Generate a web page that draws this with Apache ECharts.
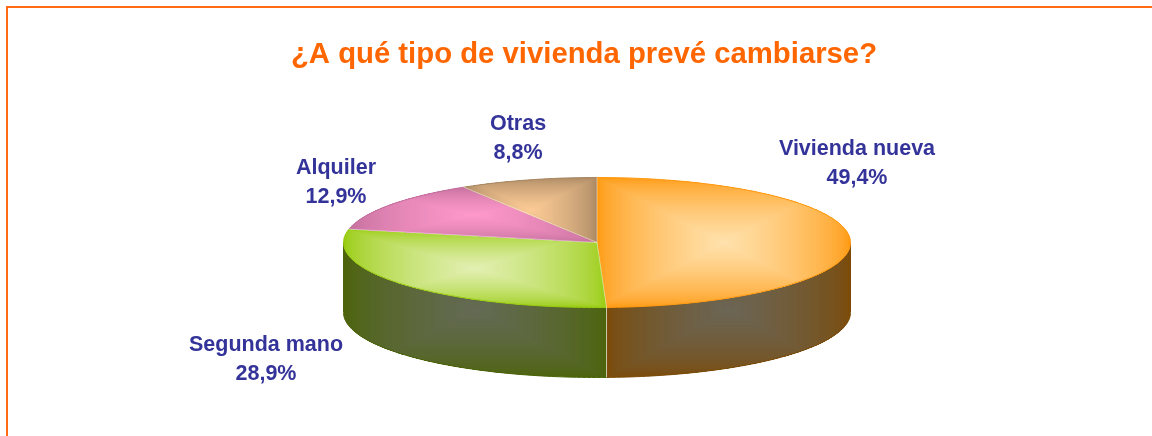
<!DOCTYPE html>
<html><head><meta charset="utf-8">
<style>html,body{margin:0;padding:0;background:#fff}#c{width:1152px;height:436px}</style>
<script src="https://cdn.jsdelivr.net/npm/echarts@6/dist/echarts.min.js"></script>
</head><body><div id="c"></div>
<script>
const categories = ['Vivienda nueva', 'Segunda mano', 'Alquiler', 'Otras'];
const values = [49.4, 28.9, 12.9, 8.8];
const valueLabels = ['49,4%', '28,9%', '12,9%', '8,8%'];
const titleText = '¿A qué tipo de vivienda prevé cambiarse?';

// layout and styling
const PIE = { cx: 597, cy: 242.5, rx: 253.5, ry: 65, depth: 70 };
const topEdge = ['#ff9a12', '#99cc11', '#c26f9c', '#a98863'];
const topCenter = ['#ffe2ae', '#e3f0b4', '#ff99cc', '#fccb96'];
const wallEdge = ['#7c4b08', '#4c640a'];
const wallCenter = ['#6b6656', '#646a55'];
const labelCenters = [[857, 164], [266, 360], [336, 183], [518, 139]];

const total = values.reduce((a, b) => a + b, 0);
const ang = v => v / total * Math.PI * 2;
const px = a => PIE.cx + PIE.rx * Math.sin(a);
const py = (a, d) => PIE.cy - PIE.ry * Math.cos(a) + (d || 0);
function hex(c) { return [1, 3, 5].map(i => parseInt(c.substr(i, 2), 16)); }
function mix(a, b, t) {
  const A = hex(a), B = hex(b);
  return 'rgb(' + A.map((v, i) => Math.round(v + (B[i] - v) * t)).join(',') + ')';
}
function arcPts(a0, a1, d) {
  const n = Math.max(2, Math.ceil((a1 - a0) / 0.02)), p = [];
  for (let i = 0; i <= n; i++) { const a = a0 + (a1 - a0) * i / n; p.push([px(a), py(a, d)]); }
  return p;
}
function bands(x0, y0, x1, y1, edge, center, pow) {
  const out = [], N = 48, mx = (x0 + x1) / 2, my = (y0 + y1) / 2;
  for (let i = 0; i < N; i++) {
    const t = i / N, hw = (x1 - x0) / 2 * (1 - t), hh = (y1 - y0) / 2 * (1 - t);
    out.push({ type: 'rect', shape: { x: mx - hw, y: my - hh, width: hw * 2, height: hh * 2 },
      style: { fill: mix(edge, center, Math.pow(t, pow)) } });
  }
  return out;
}
function bbox(pts) {
  const xs = pts.map(p => p[0]), ys = pts.map(p => p[1]);
  return [Math.min(...xs), Math.min(...ys), Math.max(...xs), Math.max(...ys)];
}
function renderItem(params, api) {
  const i = params.dataIndex;
  const a0 = ang(values.slice(0, i).reduce((a, b) => a + b, 0));
  const a1 = a0 + ang(api.value(0));
  const children = [];
  // side wall: only the part of the rim that faces the viewer
  const w0 = Math.max(a0, Math.PI / 2), w1 = Math.min(a1, Math.PI * 1.5);
  if (w1 > w0) {
    const low = arcPts(w0, w1, PIE.depth);
    const wall = arcPts(w0, w1, 0).concat(low.slice().reverse());
    const b = bbox(wall);
    children.push({
      type: 'group',
      clipPath: { type: 'polygon', shape: { points: wall } },
      children: bands(b[0], PIE.cy, b[2], b[3], wallEdge[i], wallCenter[i], 0.65)
    });
    children.push({ type: 'polyline', shape: { points: low },
      style: { fill: null, stroke: wallEdge[i], lineWidth: 1 } });
    const outer = i === 0 ? w0 : w1;
    children.push({ type: 'line',
      shape: { x1: px(outer), y1: py(outer), x2: px(outer), y2: py(outer, PIE.depth) },
      style: { stroke: wallEdge[i], lineWidth: 1 } });
    if (a0 >= Math.PI / 2) children.push({ type: 'line', z2: 2,
      shape: { x1: px(a0), y1: py(a0), x2: px(a0), y2: py(a0, PIE.depth) },
      style: { stroke: 'rgba(255,255,255,0.25)', lineWidth: 1 } });
  }
  // top face
  const rim = arcPts(a0, a1, 0);
  const top = [[PIE.cx, PIE.cy]].concat(rim);
  const b = bbox(top);
  children.push({
    type: 'group',
    clipPath: { type: 'polygon', shape: { points: top } },
    children: bands(b[0], b[1], b[2], b[3], topEdge[i], topCenter[i], 0.65)
  });
  children.push({ type: 'polyline', shape: { points: rim },
    style: { fill: null, stroke: topEdge[i], lineWidth: 1 } });
  children.push({ type: 'polyline', z2: 2,
    shape: { points: [[px(a0), py(a0)], [PIE.cx, PIE.cy], [px(a1), py(a1)]] },
    style: { fill: null, stroke: 'rgba(255,255,255,0.3)', lineWidth: 0.8 } });
  children.push({ type: 'text', z2: 10, style: {
    text: categories[i] + '\n' + valueLabels[i],
    x: labelCenters[i][0], y: labelCenters[i][1],
    align: 'center', verticalAlign: 'middle',
    font: 'bold 21.5px "Liberation Sans", Arial, sans-serif', lineHeight: 29, fill: '#333399' } });
  return { type: 'group', children };
}
const chart = echarts.init(document.getElementById('c'), null, { renderer: 'canvas' });
chart.setOption({
  animation: false,
  backgroundColor: '#fff',
  title: { text: titleText, left: 584, textAlign: 'center', top: 40, padding: 0,
    textStyle: { color: '#ff6600', fontSize: 29.3, fontWeight: 'bold', fontFamily: '"Liberation Sans", Arial, sans-serif' } },
  graphic: [{ type: 'rect', silent: true, shape: { x: 7, y: 7, width: 1300, height: 600 },
    style: { fill: null, stroke: '#ff6a13', lineWidth: 2 } }],
  tooltip: { show: false },
  series: [{ type: 'custom', coordinateSystem: 'none', silent: true, renderItem, data: values, encode: { value: 0 } }]
});
</script></body></html>
